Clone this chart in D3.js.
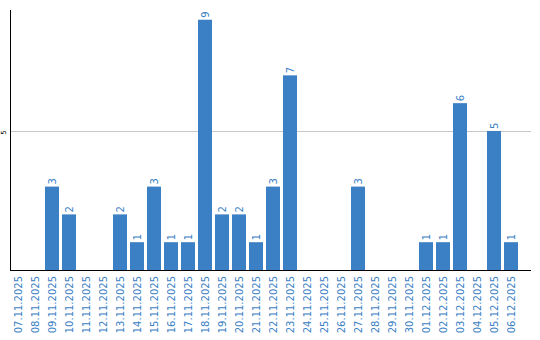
<!DOCTYPE html>
<html><head><meta charset="utf-8">
<script src="https://cdn.jsdelivr.net/npm/d3@7"></script>
<style>body{margin:0;background:#fff}svg{display:block}</style>
</head><body>
<script>
const categories = ["07.11.2025","08.11.2025","09.11.2025","10.11.2025","11.11.2025","12.11.2025","13.11.2025","14.11.2025","15.11.2025","16.11.2025","17.11.2025","18.11.2025","19.11.2025","20.11.2025","21.11.2025","22.11.2025","23.11.2025","24.11.2025","25.11.2025","26.11.2025","27.11.2025","28.11.2025","29.11.2025","30.11.2025","01.12.2025","02.12.2025","03.12.2025","04.12.2025","05.12.2025","06.12.2025"];
const values = [0,0,3,2,0,0,2,1,3,1,1,9,2,2,1,3,7,0,0,0,3,0,0,0,1,1,6,0,5,1];
const yTicks = [5];

(function () {
const W = 540, H = 340;
const mLeft = 10.5, mRight = 531, mTop = 10, mBottom = 270;
const blue = "#3b7fc4";

const svg = d3.select("body").append("svg").attr("width", W).attr("height", H);

const x = d3.scaleBand().domain(categories).range([11, 11 + 17 * categories.length - 3]).paddingInner(3/17).paddingOuter(0).align(0);
const y = d3.scaleLinear().domain([0, 9.35]).range([mBottom, mTop]);

// gridlines
svg.append("g").selectAll("line").data(yTicks).join("line")
  .attr("x1", mLeft).attr("x2", mRight)
  .attr("y1", d => Math.round(y(d)) + 0.5).attr("y2", d => Math.round(y(d)) + 0.5)
  .attr("stroke", "#c8c8c8").attr("stroke-width", 1);

// y tick labels
svg.append("g").selectAll("text").data(yTicks).join("text")
  .attr("transform", d => `translate(5.8,${y(d) + 1.5}) rotate(-90)`)
  .attr("text-anchor", "middle")
  .attr("font-family", "DejaVu Sans").attr("font-size", 7).attr("fill", "#000")
  .text(d => d);

// bars
svg.append("g").selectAll("rect").data(values).join("rect")
  .attr("x", (d, i) => x(categories[i]))
  .attr("width", x.bandwidth())
  .attr("y", d => y(d))
  .attr("height", d => mBottom - y(d))
  .attr("fill", blue);

// value labels
svg.append("g").selectAll("text").data(values.map((v, i) => ({v, c: categories[i]})).filter(d => d.v > 0)).join("text")
  .attr("transform", d => `translate(${x(d.c) + x.bandwidth() / 2 + 3.6},${y(d.v) - 2}) rotate(-90)`)
  .attr("text-anchor", "start")
  .attr("font-family", "DejaVu Sans").attr("font-size", 10).attr("fill", blue)
  .text(d => d.v);

// axes lines
svg.append("line").attr("x1", mLeft).attr("x2", mLeft).attr("y1", mTop).attr("y2", mBottom)
  .attr("stroke", "#000").attr("stroke-width", 1);
svg.append("line").attr("x1", mLeft - 0.5).attr("x2", mRight).attr("y1", mBottom + 0.5).attr("y2", mBottom + 0.5)
  .attr("stroke", "#000").attr("stroke-width", 1);

// category labels
svg.append("g").selectAll("text").data(categories).join("text")
  .attr("transform", d => `translate(${x(d) + x.bandwidth() / 2 + 3.6},276) rotate(-90)`)
  .attr("text-anchor", "end")
  .attr("font-family", "DejaVu Sans").attr("font-size", 10).attr("fill", blue)
  .text(d => d);
})();
</script>
</body></html>
